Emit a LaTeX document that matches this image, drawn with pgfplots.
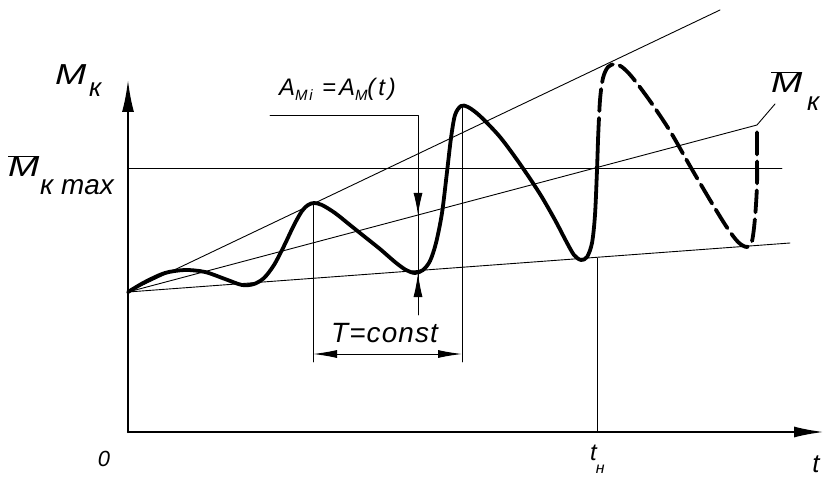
\documentclass[border=0pt]{standalone}
\usepackage{pgfplots}
\pgfplotsset{compat=1.18}
\usepackage{fontspec}
\setmainfont{Liberation Sans}
\usetikzlibrary{arrows.meta}
\definecolor{thin}{RGB}{120,120,120}
\newcommand{\fs}[1]{\fontsize{#1}{#1}\selectfont}
\newcommand{\WM}{\scalebox{1.3}[1]{M}}
\tikzset{lbl/.style={inner sep=0pt}}
\begin{document}
\begin{tikzpicture}
\begin{axis}[x=1bp,y=1bp,y dir=reverse,xmin=0,xmax=826,ymin=0,ymax=478,
  hide axis,clip=false,scale only axis,
  every axis plot/.append style={line join=round,line cap=round}]
\path (axis cs:0,0) rectangle (axis cs:826,478);
% construction lines
\addplot[thin,line width=0.9bp] coordinates {(128,292) (720,10)};
\addplot[thin,line width=0.9bp] coordinates {(128,292) (757,125) (775,104)};
\addplot[thin,line width=0.9bp] coordinates {(128,292) (790,243)};
\addplot[thin,line width=0.9bp] coordinates {(128,168) (782,168)};
\addplot[thin,line width=0.9bp] coordinates {(313,203) (313,362)};
\addplot[thin,line width=0.9bp] coordinates {(462,105) (462,362)};
\addplot[thin,line width=0.9bp] coordinates {(270,115) (418,115) (418,315)};
\addplot[thin,line width=0.9bp] coordinates {(597,258) (597,432)};
% dimension arrows
\addplot[black,line width=1bp,{Latex[length=24bp,width=8bp]}-{Latex[length=24bp,width=8bp]}] coordinates {(313,354) (462,354)};
\addplot[black,line width=1bp,-{Latex[length=22bp,width=9bp]}] coordinates {(418,192) (418,215)};
\addplot[black,line width=1bp,-{Latex[length=24bp,width=9bp]}] coordinates {(418,298) (418,273)};
% axes
\addplot[black,line width=2.2bp,-{Latex[length=32bp,width=12bp]}] coordinates {(128,432) (128,80)};
\addplot[black,line width=2.2bp,-{Latex[length=30bp,width=11bp]}] coordinates {(128,432) (824,432)};
% curve solid part
\addplot[black,line width=3.8bp,smooth,tension=0.5] coordinates {
(128,292) (145,282) (165,273) (185,270) (205,272) (225,279) (242,285) (254,284) (264,278) (274,265) (284,246) (294,225) (302,211) (308,205) (314,203) (322,205) (335,213) (350,225) (365,237) (380,249) (395,262) (406,270) (415,273) (423,270) (430,261) (436,243) (442,213) (447,172) (451,138) (455,115) (461,106) (468,107) (480,116) (500,137) (520,164) (540,194) (555,220) (566,241) (574,255) (581,260) (587,257) (592,243) (595,215) (597,170) (598,140)};
% dashed part
\addplot[black,line width=3.8bp,smooth,tension=0.5,dash pattern=on 22bp off 7bp] coordinates {
(598,140) (600,100) (603,78) (608,67) (615,64) (622,67) (632,77) (650,101) (670,131) (690,166) (710,200) (726,226) (738,242) (747,247) (752,241) (755,218) (757,185) (757,155) (757,127)};
% labels
\node[lbl,anchor=base west,font=\fs{29}\itshape] at (axis cs:55,85) {\WM};
\node[lbl,anchor=base west,font=\fs{26}\itshape] at (axis cs:89,97) {к};
\node[lbl,anchor=base west,font=\fs{29}\itshape] at (axis cs:8,177) {$\overline{\mbox{\WM}}$};
\node[lbl,anchor=base west,font=\fs{28}\itshape] at (axis cs:40,195) {к max};
\node[lbl,anchor=base west,font=\fs{29}\itshape] at (axis cs:771,93) {$\overline{\mbox{\WM}}$};
\node[lbl,anchor=base west,font=\fs{26}\itshape] at (axis cs:807,111) {к};
\node[lbl,anchor=base west,font=\fs{24}\itshape\addfontfeature{LetterSpace=12}] at (axis cs:279,96) {A\raisebox{-0.35ex}{\fs{15}Mi} =A\raisebox{-0.35ex}{\fs{15}M}(t)};
\node[lbl,anchor=base west,font=\fs{28}\itshape\addfontfeature{LetterSpace=4}] at (axis cs:331,342) {T=const};
\node[lbl,anchor=base,font=\fs{22}\itshape] at (axis cs:104,466) {0};
\node[lbl,anchor=base west,font=\fs{24}\itshape] at (axis cs:590,460) {t\kern-1bp\raisebox{-13bp}{\fs{16}н}};
\node[lbl,anchor=base,font=\fs{26}\itshape] at (axis cs:816,472) {t};
\end{axis}
\end{tikzpicture}
\end{document}
